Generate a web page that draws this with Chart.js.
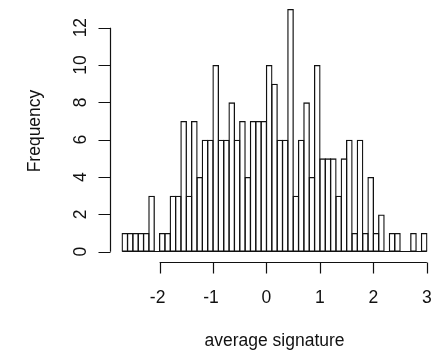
<!DOCTYPE html>
<html>
<head>
<meta charset="utf-8">
<script src="https://cdn.jsdelivr.net/npm/chart.js@4/dist/chart.umd.min.js"></script>
<style>
  html, body { margin: 0; padding: 0; background: #fff; }
  canvas { display: block; }
</style>
</head>
<body>
<canvas id="histChart" width="439" height="353"></canvas>
<script>
// bin midpoints (bin width 0.1, from -2.7 to 3.0)
const binMids = [
  -2.65, -2.55, -2.45, -2.35, -2.25, -2.15, -2.05, -1.95, -1.85, -1.75,
  -1.65, -1.55, -1.45, -1.35, -1.25, -1.15, -1.05, -0.95, -0.85, -0.75,
  -0.65, -0.55, -0.45, -0.35, -0.25, -0.15, -0.05, 0.05, 0.15, 0.25,
  0.35, 0.45, 0.55, 0.65, 0.75, 0.85, 0.95, 1.05, 1.15, 1.25,
  1.35, 1.45, 1.55, 1.65, 1.75, 1.85, 1.95, 2.05, 2.15, 2.25,
  2.35, 2.45, 2.55, 2.65, 2.75, 2.85, 2.95
];
const counts = [
  1, 1, 1, 1, 1, 3, 0, 1, 1, 3,
  3, 7, 3, 7, 4, 6, 6, 10, 6, 6,
  8, 6, 7, 4, 7, 7, 7, 10, 9, 6,
  6, 13, 3, 6, 8, 4, 10, 5, 5, 5,
  3, 5, 6, 1, 6, 1, 4, 1, 2, 0,
  1, 1, 0, 0, 1, 0, 1
];
const binWidth = 0.1;
const xTicks = [-2, -1, 0, 1, 2, 3];
const yTicks = [0, 2, 4, 6, 8, 10, 12];
const xTitle = "average signature";
const yTitle = "Frequency";

const FONT = '17.5px "Liberation Sans", Arial, sans-serif';
const INK = "#111";

// draws the R-style axes (line only between first and last tick)
const rAxes = {
  id: "rAxes",
  afterDraw(chart) {
    const ctx = chart.ctx;
    const xs = chart.scales.x;
    const ys = chart.scales.y;
    const area = chart.chartArea;

    ctx.save();
    ctx.strokeStyle = INK;
    ctx.lineWidth = 1.2;

    // baseline under the bars (covers empty bins too)
    const y0 = Math.round(ys.getPixelForValue(0)) - 0.5;
    ctx.beginPath();
    ctx.moveTo(xs.getPixelForValue(binMids[0] - binWidth / 2), y0);
    ctx.lineTo(xs.getPixelForValue(binMids[binMids.length - 1] + binWidth / 2), y0);
    ctx.stroke();

    // x axis
    const ax = Math.round(area.bottom) + 0.5;
    ctx.beginPath();
    ctx.moveTo(xs.getPixelForValue(xTicks[0]), ax);
    ctx.lineTo(xs.getPixelForValue(xTicks[xTicks.length - 1]), ax);
    xTicks.forEach((t) => {
      const px = Math.round(xs.getPixelForValue(t)) + 0.5;
      ctx.moveTo(px, ax);
      ctx.lineTo(px, ax + 11);
    });
    ctx.stroke();

    // y axis
    const ay = Math.round(area.left) + 0.5;
    ctx.beginPath();
    ctx.moveTo(ay, ys.getPixelForValue(yTicks[0]));
    ctx.lineTo(ay, ys.getPixelForValue(yTicks[yTicks.length - 1]));
    yTicks.forEach((t) => {
      const py = Math.round(ys.getPixelForValue(t)) + 0.5;
      ctx.moveTo(ay, py);
      ctx.lineTo(ay - 12, py);
    });
    ctx.stroke();

    // labels
    ctx.fillStyle = INK;
    ctx.font = FONT;
    ctx.textAlign = "center";
    ctx.textBaseline = "alphabetic";
    xTicks.forEach((t) => {
      ctx.fillText(String(t), xs.getPixelForValue(t) - (t < 0 ? 2 : 0), ax + 40);
    });
    ctx.fillText(xTitle, (area.left + area.right) / 2, 346);

    yTicks.forEach((t) => {
      ctx.save();
      ctx.translate(ay - 25, ys.getPixelForValue(t));
      ctx.rotate(-Math.PI / 2);
      ctx.fillText(String(t), 0, 0);
      ctx.restore();
    });

    ctx.save();
    ctx.translate(40, (area.top + area.bottom) / 2);
    ctx.rotate(-Math.PI / 2);
    ctx.fillText(yTitle, 0, 0);
    ctx.restore();

    ctx.restore();
  },
};

new Chart(document.getElementById("histChart"), {
  type: "bar",
  data: {
    datasets: [
      {
        data: binMids.map((m, i) => ({ x: m, y: counts[i] })),
        backgroundColor: "rgba(0,0,0,0)",
        borderColor: INK,
        borderWidth: 1.3,
        borderSkipped: false,
        barPercentage: 1.243,
        categoryPercentage: 1,
      },
    ],
  },
  options: {
    responsive: false,
    animation: false,
    events: [],
    layout: { padding: { left: 110, right: 0, top: 0, bottom: 91 } },
    plugins: {
      legend: { display: false },
      tooltip: { enabled: false },
    },
    scales: {
      x: {
        type: "linear",
        display: false,
        offset: false,
        min: -2.928,
        max: 3.228,
      },
      y: {
        display: false,
        min: -0.55,
        max: 13.48,
      },
    },
  },
  plugins: [rAxes],
});
</script>
</body>
</html>
